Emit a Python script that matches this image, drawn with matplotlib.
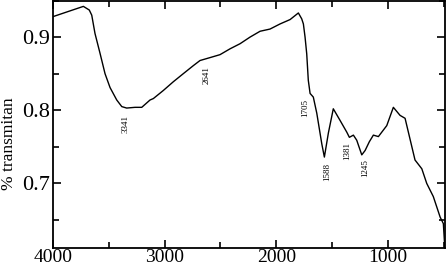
import matplotlib
matplotlib.use("Agg")
import matplotlib.pyplot as plt
from matplotlib.ticker import MultipleLocator

wavenumber = [4000, 3728, 3675, 3653, 3624, 3579, 3534, 3489, 3429, 3384, 3340, 3265,
              3205, 3131, 3101, 3012, 2922, 2833, 2743, 2683, 2593, 2504, 2414, 2324,
              2235, 2145, 2056, 1966, 1876, 1802, 1772, 1757, 1742, 1727, 1713, 1697,
              1668, 1637, 1592, 1569, 1533, 1489, 1428, 1368, 1345, 1309, 1279, 1234,
              1204, 1166, 1130, 1085, 1010, 951, 891, 846, 757, 696, 652, 593, 532,
              503, 490]
transmittance = [0.928, 0.942, 0.937, 0.930, 0.905, 0.878, 0.850, 0.831, 0.814, 0.805,
                 0.803, 0.804, 0.804, 0.814, 0.816, 0.827, 0.839, 0.850, 0.861, 0.868,
                 0.872, 0.876, 0.884, 0.891, 0.900, 0.908, 0.911, 0.918, 0.924, 0.933,
                 0.925, 0.918, 0.900, 0.877, 0.841, 0.823, 0.818, 0.796, 0.754, 0.736,
                 0.769, 0.802, 0.786, 0.770, 0.763, 0.766, 0.759, 0.739, 0.745, 0.757,
                 0.766, 0.764, 0.779, 0.804, 0.793, 0.789, 0.732, 0.720, 0.700, 0.682,
                 0.654, 0.645, 0.612]

peak_labels = ["3341", "2641", "1705", "1588", "1381", "1245"]
peak_x = [3346, 2623, 1739, 1545, 1366, 1204]
peak_y = [0.781, 0.848, 0.803, 0.715, 0.744, 0.721]

plt.rcParams['font.family'] = ['Liberation Serif', 'DejaVu Serif']

fig = plt.figure(figsize=(4.47, 2.66), dpi=100)
ax = fig.add_axes([0.1186, 0.0677, 0.8770, 0.9303])
ax.plot(wavenumber, transmittance, color='black', lw=1.0)

for lab, x, y in zip(peak_labels, peak_x, peak_y):
    ax.text(x, y, lab, rotation=90, ha='center', va='center', fontsize=6.5,
            fontstretch='condensed')

ax.set_xlim(4000, 488)
ax.set_ylim(0.6117, 0.95)
ax.xaxis.set_major_locator(MultipleLocator(1000))
ax.xaxis.set_minor_locator(MultipleLocator(500))
ax.yaxis.set_major_locator(MultipleLocator(0.1))
ax.yaxis.set_minor_locator(MultipleLocator(0.05))
ax.tick_params(which='both', direction='in', top=True, right=True, width=1.2)
ax.tick_params(which='major', length=6)
ax.tick_params(which='minor', length=4)
ax.tick_params(axis='y', pad=2, labelsize=16)
ax.tick_params(axis='x', pad=0.5, labelsize=14)
for s in ax.spines.values():
    s.set_linewidth(1.3)
ax.set_ylabel('% transmitan', fontsize=12.5)
ax.yaxis.set_label_coords(-0.092, 0.42)

fig.savefig('out.png', dpi=100)
